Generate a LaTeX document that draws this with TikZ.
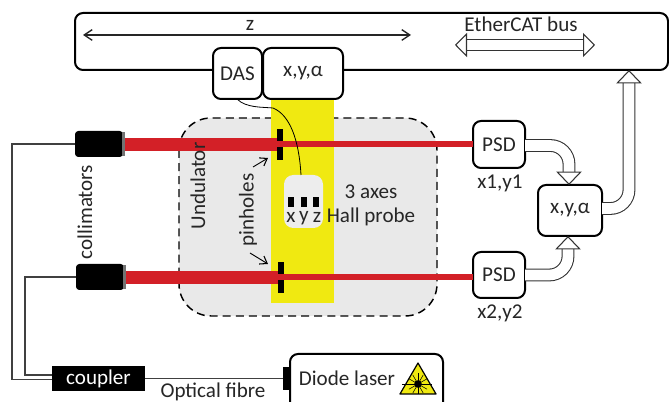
\documentclass[tikz,border=0pt]{standalone}
\usepackage{fontspec}
\setmainfont{Carlito}
\usetikzlibrary{arrows.meta,calc,positioning}
\definecolor{beam}{HTML}{D32027}
\definecolor{yel}{HTML}{F0E911}
\definecolor{undgrey}{HTML}{E9E9E9}
\def\px{0.75pt}
\tikzset{
  x=0.75pt,y=-0.75pt,
  every node/.style={inner sep=0pt,outer sep=0pt,font=\fontsize{15.8}{18}\selectfont,text=black!85},
  rbox/.style={draw=black,line width=1.5pt,fill=white,rounded corners=6pt},
  beamthick/.style={draw=beam,line width=9.5pt},
  beamthin/.style={draw=beam,line width=4.5pt},
  wire/.style={draw=black!75,line width=0.8pt},
  hollow/.style={draw=black!80,line width=0.8pt,double=white,double distance=8pt,rounded corners=14pt,
    -{Triangle[open,fill=white,length=10pt,width=19pt,line width=0.8pt]}},
  hollowtwo/.style={draw=black!80,line width=0.8pt,double=white,double distance=7pt,
    {Triangle[open,fill=white,length=9pt,width=18pt,line width=0.8pt]}-{Triangle[open,fill=white,length=9pt,width=18pt,line width=0.8pt]}},
  pinhole/.style={fill=black,minimum width=6*\px,minimum height=31*\px},
  colli/.style={fill=black,rounded corners=2.5pt,minimum width=48*\px,minimum height=26*\px},
  sensor/.style={fill=black,minimum width=6*\px,minimum height=10*\px},
}
\begin{document}
\begin{tikzpicture}
\clip (0,0) rectangle (669,402);
\fill[white] (0,0) rectangle (669,402);
% undulator and yellow band
\draw[fill=undgrey,draw=black,line width=1.1pt,dash pattern=on 6pt off 3.8pt,rounded corners=24pt] (179,118) rectangle (437,316);
\fill[yel] (271,99) rectangle (334,303);
% bus
\node[rbox,minimum width=593*\px,minimum height=57*\px,anchor=north west] (bus) at (75,13) {};
\coordinate (zl) at (83,35);
\coordinate (zr) at (411,35);
\draw[line width=0.9pt,black!85,{Straight Barb[length=6pt,width=8pt,line width=1pt]}-{Straight Barb[length=6pt,width=8pt,line width=1pt]}] (zl) -- (zr);
\node (zlbl) at (250,25) {z};
\node (ecat) at (521,24) {EtherCAT bus};
\coordinate (el) at (455,45);
\coordinate (er) at (595,45);
\draw[hollowtwo] (el) -- (er);
% boxes
\node[rbox,minimum width=49*\px,minimum height=51*\px,anchor=north west] (das) at (213,48) {DAS};
\node[rbox,minimum width=80*\px,minimum height=51*\px,anchor=north west] (xya) at (263,48) {x,y,α};
\node[rbox,minimum width=52*\px,minimum height=47*\px,anchor=north west] (psda) at (473,121) {PSD};
\node[rbox,minimum width=52*\px,minimum height=46*\px,anchor=north west] (psdb) at (473,252) {PSD};
\node[rbox,minimum width=64*\px,minimum height=51*\px,anchor=north west] (calc) at (538,185) {x,y,α};
\node (xa) at (500,183) {x1,y1};
\node (xb) at (500,313) {x2,y2};
% collimators
\node[colli,anchor=west] (cola) at (75,144) {};
\node[colli,anchor=west] (colb) at (76,277) {};
\fill[black!55] (121.5,132) rectangle (125,156);
\fill[black!55] (122.5,265) rectangle (126,289);
% pinholes and beams
\node[pinhole] (pa) at (280,144.5) {};
\node[pinhole] (pb) at (281,277.5) {};
\draw[beamthick] (125,144.5) -- (pa.center);
\draw[beamthick] (126,277.5) -- (pb.center);
\draw[beamthin] (pa.center) -- (psda.west |- pa.center);
\draw[beamthin] (pb.center) -- (psdb.west |- pb.center);
\node[pinhole] at (280,144.5) {};
\node[pinhole] at (281,277.5) {};
\draw[beamthin] (pa.west) -- (pa.east);
\draw[beamthin] (pb.west) -- (pb.east);
% probe
\node[fill=white!93!black,rounded corners=7pt,minimum width=39*\px,minimum height=53*\px,anchor=north west] (probe) at (284,175) {};
\node[sensor] (sx) at (291,202) {};
\node[sensor] (sy) at (304,202) {};
\node[sensor] (sz) at (316,202) {};
\node (tx) at (291,217) {x};
\node (ty) at (304,218) {y};
\node (tz) at (317,217) {z};
\draw[black,line width=0.6pt] (237,99) .. controls (246,108) and (262,107) .. (273,108) .. controls (290,115) and (299,140) .. (probe.north -| 301,0);
\node (axes) at (371,192) {3 axes};
\node (hall) at (371,217) {Hall probe};
\node[rotate=90] (collim) at (85,212) {collimators};
\node[rotate=90] (und) at (198,186) {Undulator};
\node[rotate=90] (pin) at (248,210) {pinholes};
% pointers
\coordinate (pinta) at (253,167);
\coordinate (pintb) at (250,253);
\draw[black,line width=0.7pt,-{Straight Barb[length=5pt,width=7pt,line width=0.8pt]}] (pinta) -- (268,158);
\draw[black,line width=0.7pt,-{Straight Barb[length=5pt,width=7pt,line width=0.8pt]}] (pintb) -- (268,264);
% hollow arrows
\draw[hollow] ($(psda.east)+(0,1)$) -| ($(calc.north)+(-1,0)$);
\draw[hollow] ($(psdb.east)+(0,0)$) -| ($(calc.south)+(-2,0)$);
\draw[hollow] ($(calc.east)+(0,-2)$) -| (629,70);
% coupler and laser
\node[fill=black,minimum width=93*\px,minimum height=25*\px,anchor=north west,text=white] (coupler) at (52,366) {coupler};
\node[rbox,minimum width=153*\px,minimum height=70*\px,anchor=north west] (laser) at (290,354) {};
\node[fill=black,minimum width=7*\px,minimum height=23*\px,anchor=north west] (plug) at (283,367) {};
\node (dl) at (347,378) {Diode laser};
\node (ofib) at (213,391.5) {Optical fibre};
\draw[wire] (coupler.east |- plug.west) -- (plug.west);
\coordinate (wa) at (12,144);
\coordinate (wb) at (25,277);
\draw[wire] (cola.west) -- (wa) -- (12,379.5) -- (coupler.west |- 0,379.5);
\draw[wire] (colb.west) -- (wb) -- (25,375) -- (coupler.west |- 0,375);
% laser warning sign
\draw[fill=yel,draw=black,line width=0.9pt,line join=round] (418,363) -- (400,394) -- (436,394) -- cycle;
\foreach \a in {0,30,...,330}{\draw[black,line width=0.4pt] (418,384) -- ++(\a:10.5);}
\draw[black,line width=0.7pt] (402,384) -- (432,384);
\fill[black] (418,384) circle (3.8);
\end{tikzpicture}
\end{document}
